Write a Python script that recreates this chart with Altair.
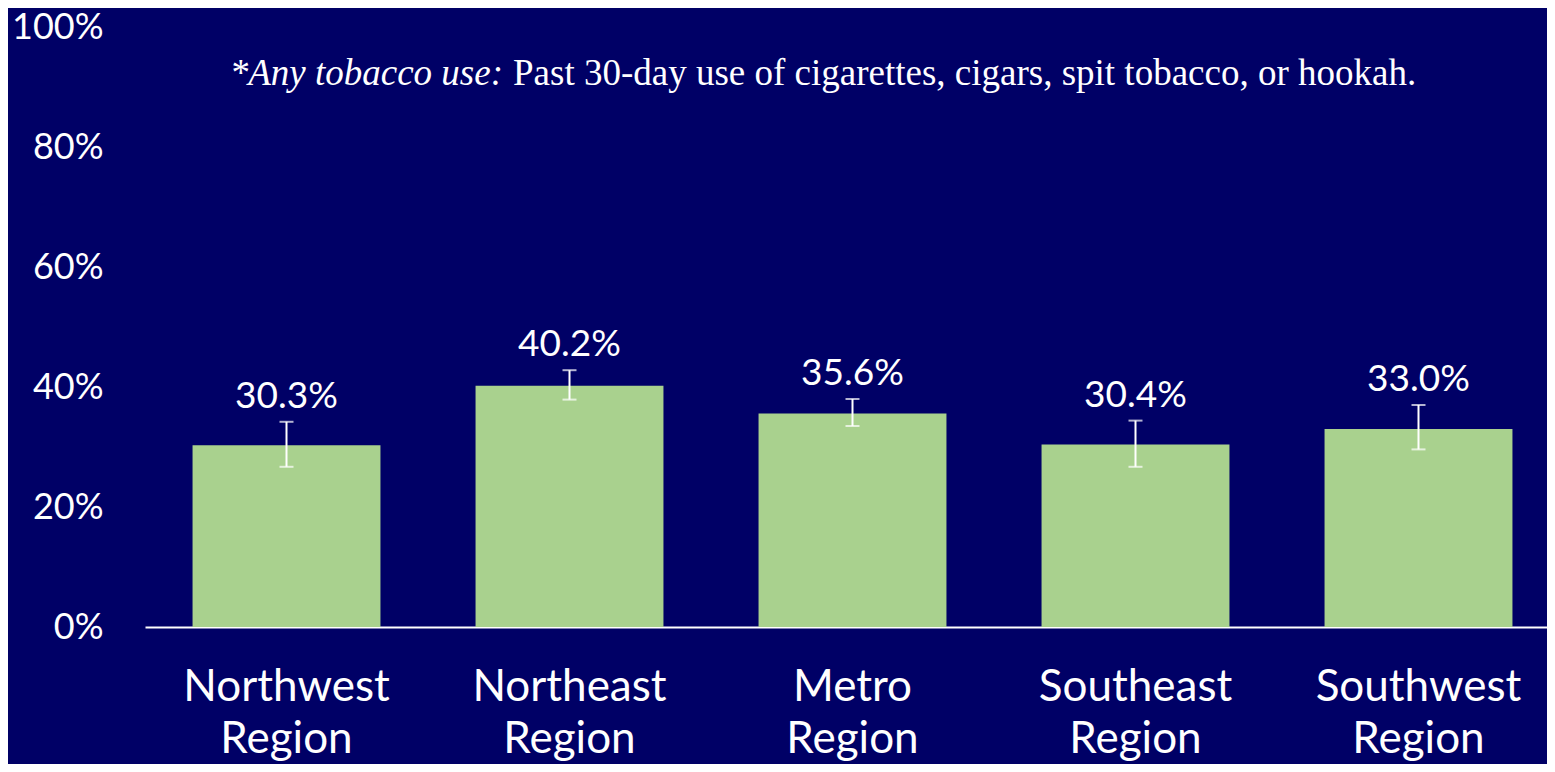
import altair as alt
import pandas as pd

regions = ["Northwest Region", "Northeast Region", "Metro Region", "Southeast Region", "Southwest Region"]
values = [30.3, 40.2, 35.6, 30.4, 33.0]
lower = [26.7, 37.9, 33.5, 26.7, 29.6]
upper = [34.2, 42.8, 38.0, 34.4, 37.0]
labels = ["30.3%", "40.2%", "35.6%", "30.4%", "33.0%"]
y_ticks = [0, 20, 40, 60, 80, 100]
note_italic = "*Any tobacco use:"
note_regular = "Past 30-day use of cigarettes, cigars, spit tobacco, or hookah."

df = pd.DataFrame({"region": regions, "value": values, "lo": lower, "hi": upper, "label": labels})

BG = "#000066"
BAR = "#A9D18E"

x = alt.X(
    "region:N",
    sort=regions,
    scale=alt.Scale(range=[0, 1415], paddingInner=0.336, paddingOuter=0.168),
    axis=alt.Axis(
        title=None,
        labelExpr="split(datum.label, ' ')",
        labelAngle=0,
        labelFont="Lato",
        labelFontSize=44,
        labelColor="white",
        labelLineHeight=52,
        labelPadding=38,
        labelLimit=600,
        ticks=False,
        domainColor="white",
        domainWidth=2,
        labelBaseline="top",
    ),
)

yscale = alt.Scale(domain=[0, 100], nice=False)

bars = alt.Chart(df).mark_bar(color=BAR).encode(
    x=x,
    y=alt.Y(
        "value:Q",
        scale=yscale,
        axis=alt.Axis(
            title=None,
            values=y_ticks,
            labelExpr="datum.value + '%'",
            labelFont="Lato",
            labelFontSize=36,
            labelColor="white",
            labelPadding=42,
            ticks=False,
            domain=False,
            grid=False,
        ),
    ),
)

err = alt.Chart(df).mark_rule(color="white", strokeWidth=2).encode(
    x=alt.X("region:N", sort=regions),
    y=alt.Y("lo:Q", scale=yscale),
    y2="hi:Q",
)

cap_lo = alt.Chart(df).mark_tick(color="white", size=14, thickness=2).encode(
    x=alt.X("region:N", sort=regions),
    y=alt.Y("lo:Q", scale=yscale),
)
cap_hi = alt.Chart(df).mark_tick(color="white", size=14, thickness=2).encode(
    x=alt.X("region:N", sort=regions),
    y=alt.Y("hi:Q", scale=yscale),
)

text = alt.Chart(df).mark_text(
    color="white", font="Lato", fontSize=37, baseline="alphabetic", dy=-14
).encode(
    x=alt.X("region:N", sort=regions),
    y=alt.Y("hi:Q", scale=yscale),
    text="label:N",
)

note1 = alt.Chart(pd.DataFrame({"t": [note_italic]})).mark_text(
    color="white", font="Liberation Serif", fontStyle="italic", fontSize=37,
    align="right", baseline="alphabetic",
).encode(x=alt.value(358), y=alt.value(58), text="t:N")

note2 = alt.Chart(pd.DataFrame({"t": [note_regular]})).mark_text(
    color="white", font="Liberation Serif", fontSize=37,
    align="left", baseline="alphabetic",
).encode(x=alt.value(368), y=alt.value(58), text="t:N")

chart = alt.layer(bars, err, cap_lo, cap_hi, text, note1, note2).properties(
    width=1402,
    height=600,
    background=BG,
    autosize=alt.AutoSizeParams(type="none"),
    padding={"left": 137, "top": 19, "right": 0, "bottom": 137},
).configure_view(stroke=None)

chart.save("out.html", embed_options={"renderer": "svg", "actions": False})
